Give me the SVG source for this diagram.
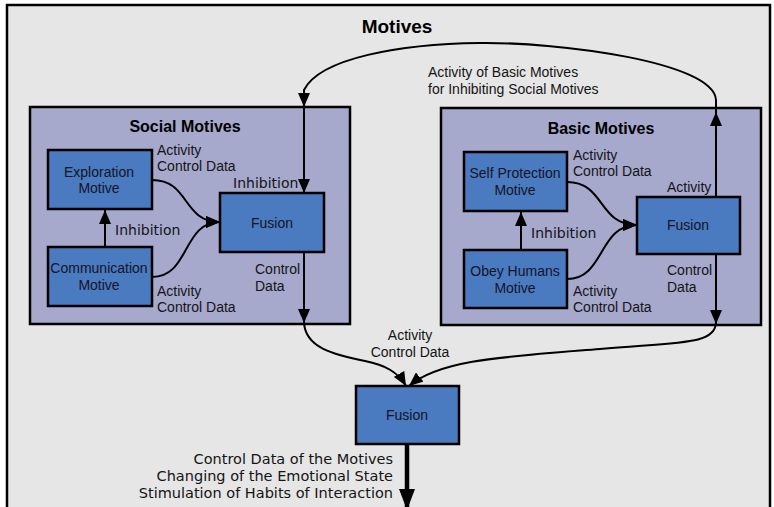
<svg xmlns="http://www.w3.org/2000/svg" width="774" height="507" viewBox="0 0 774 507">
<defs>
<marker id="ah" markerUnits="userSpaceOnUse" markerWidth="15" markerHeight="12" refX="14" refY="6" orient="auto">
<path d="M0,0 L14,6 L0,12 z" fill="#000"/>
</marker>
<marker id="ahBig" markerUnits="userSpaceOnUse" markerWidth="22" markerHeight="16" refX="21" refY="8" orient="auto">
<path d="M0,0 L21,8 L0,16 z" fill="#000"/>
</marker>
<style>
.grp{fill:#a6a8cc;stroke:#000;stroke-width:2.5}
.node{fill:#4a7abf;stroke:#000;stroke-width:2.5}
.nt{font-family:"Liberation Sans",Arial,sans-serif;font-size:14px;fill:#141428;text-anchor:middle}
.lbl{font-family:"Liberation Sans",Arial,sans-serif;font-size:14px;fill:#141414}
.dv{font-family:"DejaVu Sans",sans-serif;font-size:14px;fill:#141414}
.out{font-family:"DejaVu Sans",sans-serif;font-size:14.5px;fill:#141414;text-anchor:end}
.ttl{font-family:"Liberation Sans",Arial,sans-serif;font-weight:bold;fill:#000;text-anchor:middle}
.c{fill:none;stroke:#000;stroke-width:2}
</style>
</defs>
<rect x="0" y="0" width="774" height="507" fill="#fff"/>
<rect x="7" y="5" width="763" height="530" fill="#e6e6e6" stroke="#000" stroke-width="2.5"/>
<text class="ttl" x="397" y="33" font-size="19">Motives</text>

<g id="social-motives">
<rect class="grp" x="30" y="107" width="320" height="217"/>
<text class="ttl" x="185" y="132" font-size="16">Social Motives</text>
</g>
<g id="basic-motives">
<rect class="grp" x="441" y="108" width="320" height="217"/>
<text class="ttl" x="601" y="134" font-size="16">Basic Motives</text>
</g>

<g id="exploration-motive">
<rect class="node" x="48" y="150" width="104" height="59"/>
<text class="nt" x="99" y="177">Exploration</text>
<text class="nt" x="99" y="193">Motive</text>
</g>
<g id="communication-motive">
<rect class="node" x="48" y="247" width="104" height="59"/>
<text class="nt" x="99" y="273">Communication</text>
<text class="nt" x="99" y="290">Motive</text>
</g>
<g id="social-fusion">
<rect class="node" x="220" y="193" width="104" height="59"/>
<text class="nt" x="272" y="228">Fusion</text>
</g>
<g id="self-protection-motive">
<rect class="node" x="464" y="152" width="103" height="59"/>
<text class="nt" x="515" y="178">Self Protection</text>
<text class="nt" x="515" y="195">Motive</text>
</g>
<g id="obey-humans-motive">
<rect class="node" x="464" y="250" width="103" height="58"/>
<text class="nt" x="515" y="276">Obey Humans</text>
<text class="nt" x="515" y="293">Motive</text>
</g>
<g id="basic-fusion">
<rect class="node" x="637" y="197" width="103" height="57"/>
<text class="nt" x="688" y="230">Fusion</text>
</g>
<g id="main-fusion">
<rect class="node" x="356" y="386" width="103" height="58"/>
<text class="nt" x="407" y="420">Fusion</text>
</g>

<g id="connectors">
<path class="c" d="M105,247 L105,210" marker-end="url(#ah)"/>
<path class="c" d="M152,180 C190,180 182,222 220,222" marker-end="url(#ah)"/>
<path class="c" d="M152,277 C190,277 182,222 220,222" marker-end="url(#ah)"/>
<path class="c" d="M521,250 L521,212" marker-end="url(#ah)"/>
<path class="c" d="M567,182 C605,182 598,225 637,225" marker-end="url(#ah)"/>
<path class="c" d="M567,279 C605,279 598,225 637,225" marker-end="url(#ah)"/>
<path class="c" d="M716,197 L716,112" marker-end="url(#ah)"/>
<path class="c" d="M716,114 L716,100 C714,62 560,42 480,43 C400,44 320,58 304,90 L304,107" marker-end="url(#ah)"/>
<path class="c" d="M304,107 L304,193" marker-end="url(#ah)"/>
<path class="c" d="M304,252 L304,323" marker-end="url(#ah)"/>
<path class="c" d="M304,321 C304,348 335,355 365,361 C385,365 398,372 406,386" marker-end="url(#ah)"/>
<path class="c" d="M716,254 L716,324" marker-end="url(#ah)"/>
<path class="c" d="M716,322 C716,345 680,342 600,349 C500,357 440,360 409,386" marker-end="url(#ah)"/>
<path fill="none" stroke="#000" stroke-width="4.5" d="M407,444 L407,510" marker-end="url(#ahBig)"/>
</g>

<g id="labels">
<text class="lbl" x="157" y="155">Activity</text>
<text class="lbl" x="157" y="171">Control Data</text>
<text class="dv" x="115" y="235">Inhibition</text>
<text class="lbl" x="157" y="296">Activity</text>
<text class="lbl" x="157" y="312">Control Data</text>
<text class="dv" x="233" y="188">Inhibition</text>
<text class="lbl" x="255" y="274">Control</text>
<text class="lbl" x="255" y="291">Data</text>
<text class="lbl" x="428" y="77">Activity of Basic Motives</text>
<text class="lbl" x="428" y="94">for Inhibiting Social Motives</text>
<text class="lbl" x="573" y="160">Activity</text>
<text class="lbl" x="573" y="176">Control Data</text>
<text class="dv" x="531" y="238">Inhibition</text>
<text class="lbl" x="573" y="296">Activity</text>
<text class="lbl" x="573" y="312">Control Data</text>
<text class="lbl" x="667" y="192">Activity</text>
<text class="lbl" x="667" y="275">Control</text>
<text class="lbl" x="667" y="292">Data</text>
<text class="lbl" x="410" y="340" text-anchor="middle">Activity</text>
<text class="lbl" x="410" y="357" text-anchor="middle">Control Data</text>
<text class="out" x="393" y="464">Control Data of the Motives</text>
<text class="out" x="393" y="481">Changing of the Emotional State</text>
<text class="out" x="393" y="498">Stimulation of Habits of Interaction</text>
</g>
</svg>
